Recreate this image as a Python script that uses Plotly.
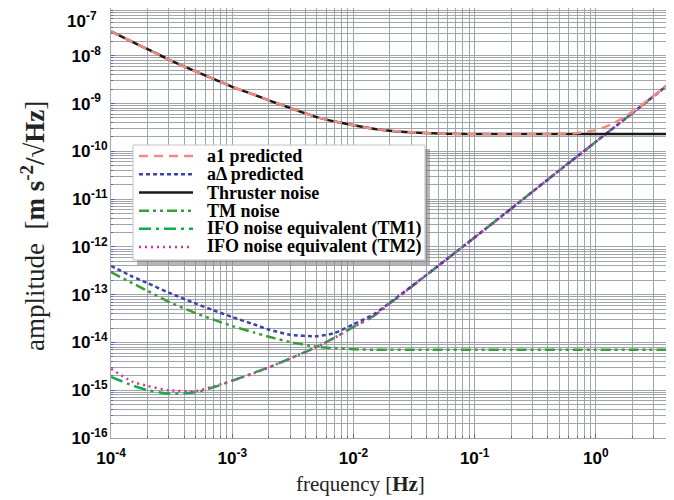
import plotly.graph_objects as go

# frequency grid [Hz]
freq = [1e-4, 1.5e-4, 2e-4, 3e-4, 5e-4, 7e-4, 1e-3, 1.5e-3, 2e-3, 3e-3, 5e-3, 7e-3,
        1e-2, 1.5e-2, 2e-2, 3e-2, 5e-2, 0.1, 0.2, 0.5, 0.7, 1.0, 1.4, 2.0, 4.4]

thruster = [3.24e-8, 1.95e-8, 1.38e-8, 8.3e-9, 4.7e-9, 3.3e-9, 2.24e-9, 1.55e-9, 1.17e-9,
            8.1e-10, 5.2e-10, 4.2e-10, 3.5e-10, 2.95e-10, 2.7e-10, 2.5e-10, 2.35e-10,
            2.3e-10, 2.3e-10, 2.3e-10, 2.3e-10, 2.3e-10, 2.3e-10, 2.3e-10, 2.3e-10]

a1_pred = [3.24e-8, 1.95e-8, 1.38e-8, 8.3e-9, 4.7e-9, 3.3e-9, 2.24e-9, 1.55e-9, 1.17e-9,
           8.1e-10, 5.2e-10, 4.2e-10, 3.5e-10, 2.95e-10, 2.7e-10, 2.5e-10, 2.35e-10,
           2.3e-10, 2.3e-10, 2.33e-10, 2.43e-10, 2.78e-10, 3.86e-10, 6.7e-10, 3.1e-9]

adelta_pred = [4.0e-13, 2.4e-13, 1.74e-13, 1.10e-13, 6.5e-14, 4.7e-14, 3.4e-14, 2.4e-14,
               1.86e-14, 1.45e-14, 1.35e-14, 1.58e-14, 2.4e-14, 4.0e-14, 6.8e-14, 1.48e-13,
               4.0e-13, 1.58e-12, 6.3e-12, 4.0e-11, 7.8e-11, 1.58e-10, 3.1e-10, 6.3e-10, 3.1e-9]

tm_noise = [2.95e-13, 1.74e-13, 1.20e-13, 7.1e-14, 4.1e-14, 3.0e-14, 2.2e-14, 1.62e-14,
            1.32e-14, 1.02e-14, 8.1e-15, 7.6e-15, 7.2e-15, 7.0e-15, 7.0e-15, 7.0e-15,
            7.0e-15, 7.0e-15, 7.0e-15, 7.0e-15, 7.0e-15, 7.0e-15, 7.0e-15, 7.0e-15, 7.0e-15]

ifo_tm1 = [1.9e-15, 1.26e-15, 1.0e-15, 8.5e-16, 9.1e-16, 1.15e-15, 1.58e-15, 2.3e-15,
           3.0e-15, 4.6e-15, 8.1e-15, 1.26e-14, 2.1e-14, 3.7e-14, 6.6e-14, 1.45e-13,
           4.0e-13, 1.58e-12, 6.3e-12, 4.0e-11, 7.8e-11, 1.58e-10, 3.1e-10, 6.3e-10, 3.1e-9]

ifo_tm2 = [2.8e-15, 1.51e-15, 1.23e-15, 1.0e-15, 9.5e-16, 1.2e-15, 1.58e-15, 2.24e-15,
           3.0e-15, 4.6e-15, 8.1e-15, 1.26e-14, 2.1e-14, 3.7e-14, 6.6e-14, 1.45e-13,
           4.0e-13, 1.58e-12, 6.3e-12, 4.0e-11, 7.8e-11, 1.58e-10, 3.1e-10, 6.3e-10, 3.1e-9]

x_tickvals = [1e-4, 1e-3, 1e-2, 1e-1, 1e0]
x_ticktext = ["10<sup>-4</sup>", "10<sup>-3</sup>", "10<sup>-2</sup>", "10<sup>-1</sup>", "10<sup>0</sup>"]
FS = "\u2007"  # figure space keeps the single-digit exponents left-aligned with the others
y_tickvals = [1e-16, 1e-15, 1e-14, 1e-13, 1e-12, 1e-11, 1e-10, 1e-9, 1e-8, 1e-7]
y_ticktext = ["10<sup>-16</sup>", "10<sup>-15</sup>", "10<sup>-14</sup>", "10<sup>-13</sup>",
              "10<sup>-12</sup>", "10<sup>-11</sup>", "10<sup>-10</sup>",
              "10<sup>-9" + FS + "</sup>", "10<sup>-8" + FS + "</sup>", ""]
top_label = "10<sup>-7</sup>"

names = ["a1 predicted", "a\u0394 predicted", "Thruster noise", "TM noise",
         "IFO noise equivalent (TM1)", "IFO noise equivalent (TM2)"]
colors = ["#f38a82", "#3b44a8", "#1a1a1a", "#3c9c3c", "#12ad4a", "#e0309b"]
dashes = ["9px,6px", "4px,3px", "solid", "10px,4px,3px,4px,3px,4px", "12px,5px,3px,5px", "2px,4px"]
series = [a1_pred, adelta_pred, thruster, tm_noise, ifo_tm1, ifo_tm2]

# The page is shown with an 8px body margin, so the figure is laid out
# 8px smaller and positions below are given in on-screen pixels.
OFF = 8
W, H = 674 - OFF, 500 - OFF
SL, SR, ST, SB = 111, 674, 8, 438          # plot area on screen
L, R, T, B = SL - OFF, SR - OFF, ST - OFF, SB - OFF
def px(x):
    return (x - SL) / (SR - SL)
def py(y):
    return (SB - y) / (SB - ST)

fig = go.Figure()
draw_order = [3, 4, 1, 5, 2, 0]
for i in draw_order:
    fig.add_trace(go.Scatter(
        x=freq, y=series[i], mode="lines", name=names[i], showlegend=False,
        line=dict(color=colors[i], dash=dashes[i], width=2.5, shape="spline", smoothing=0.6)))

grid_col = "#a2a6ab"
tick_font = dict(family="Liberation Sans", size=17, color="black", weight="bold")
axis_common = dict(
    type="log", showgrid=True, gridcolor=grid_col, gridwidth=1,
    showline=True, linecolor=grid_col, linewidth=1, mirror=True,
    ticks="inside", ticklen=4, tickcolor="#4a62c8", automargin=False,
    tickfont=tick_font,
    minor=dict(dtick="D1", showgrid=True, gridcolor=grid_col, gridwidth=1,
               ticks="inside", ticklen=2, tickcolor="#4a62c8"),
    zeroline=False,
)

fig.update_xaxes(**axis_common, range=[-4.0005, 0.645], tickvals=x_tickvals,
                 ticktext=x_ticktext, ticklabelstandoff=5)
fig.update_yaxes(**axis_common, range=[-16.0005, -6.9995], tickvals=y_tickvals,
                 ticktext=y_ticktext, ticklabelstandoff=-1)

# top y tick label kept inside the page
fig.add_annotation(x=px(66), y=py(8), xref="paper", yref="paper", showarrow=False,
                   text=top_label, xanchor="left", yanchor="top", font=tick_font,
                   borderpad=0)

# axis titles
fig.add_annotation(x=px(360), y=py(484), xref="paper", yref="paper", showarrow=False,
                   text="frequency [<b>Hz</b>]", xanchor="center", yanchor="middle",
                   font=dict(family="Liberation Serif", size=21, color="#222"))
fig.add_annotation(x=px(33), y=py(226), xref="paper", yref="paper", showarrow=False,
                   textangle=-90,
                   text="amplitude  [<b>m s<sup>-2</sup>/\u221aHz</b>]",
                   xanchor="center", yanchor="middle",
                   font=dict(family="Liberation Serif", size=27, color="#222"))

# legend box (shadow + white panel), samples and labels
fig.add_shape(type="rect", xref="paper", yref="paper",
              x0=px(137), x1=px(430), y0=py(265), y1=py(149),
              fillcolor="#7a7a7a", line=dict(width=0), layer="above", opacity=0.55)
fig.add_shape(type="rect", xref="paper", yref="paper",
              x0=px(133), x1=px(425), y0=py(260), y1=py(145),
              fillcolor="white", line=dict(color="#c4c4c4", width=1), layer="above")
row_y = [156, 174.3, 192.6, 210.7, 228.8, 246.9]
for i in range(6):
    fig.add_shape(type="line", xref="paper", yref="paper",
                  x0=px(139), x1=px(193), y0=py(row_y[i]), y1=py(row_y[i]),
                  line=dict(color=colors[i], dash=dashes[i], width=2.5), layer="above")
    fig.add_annotation(x=px(205), y=py(row_y[i]), xref="paper", yref="paper",
                       showarrow=False, text="<b>" + names[i] + "</b>",
                       xanchor="left", yanchor="middle",
                       font=dict(family="Liberation Serif", size=18, color="black"))

fig.update_layout(
    width=W, height=H,
    margin=dict(l=L, r=W - R, t=T, b=H - B),
    plot_bgcolor="white", paper_bgcolor="white",
    showlegend=False,
)

fig.write_html("out.html")
